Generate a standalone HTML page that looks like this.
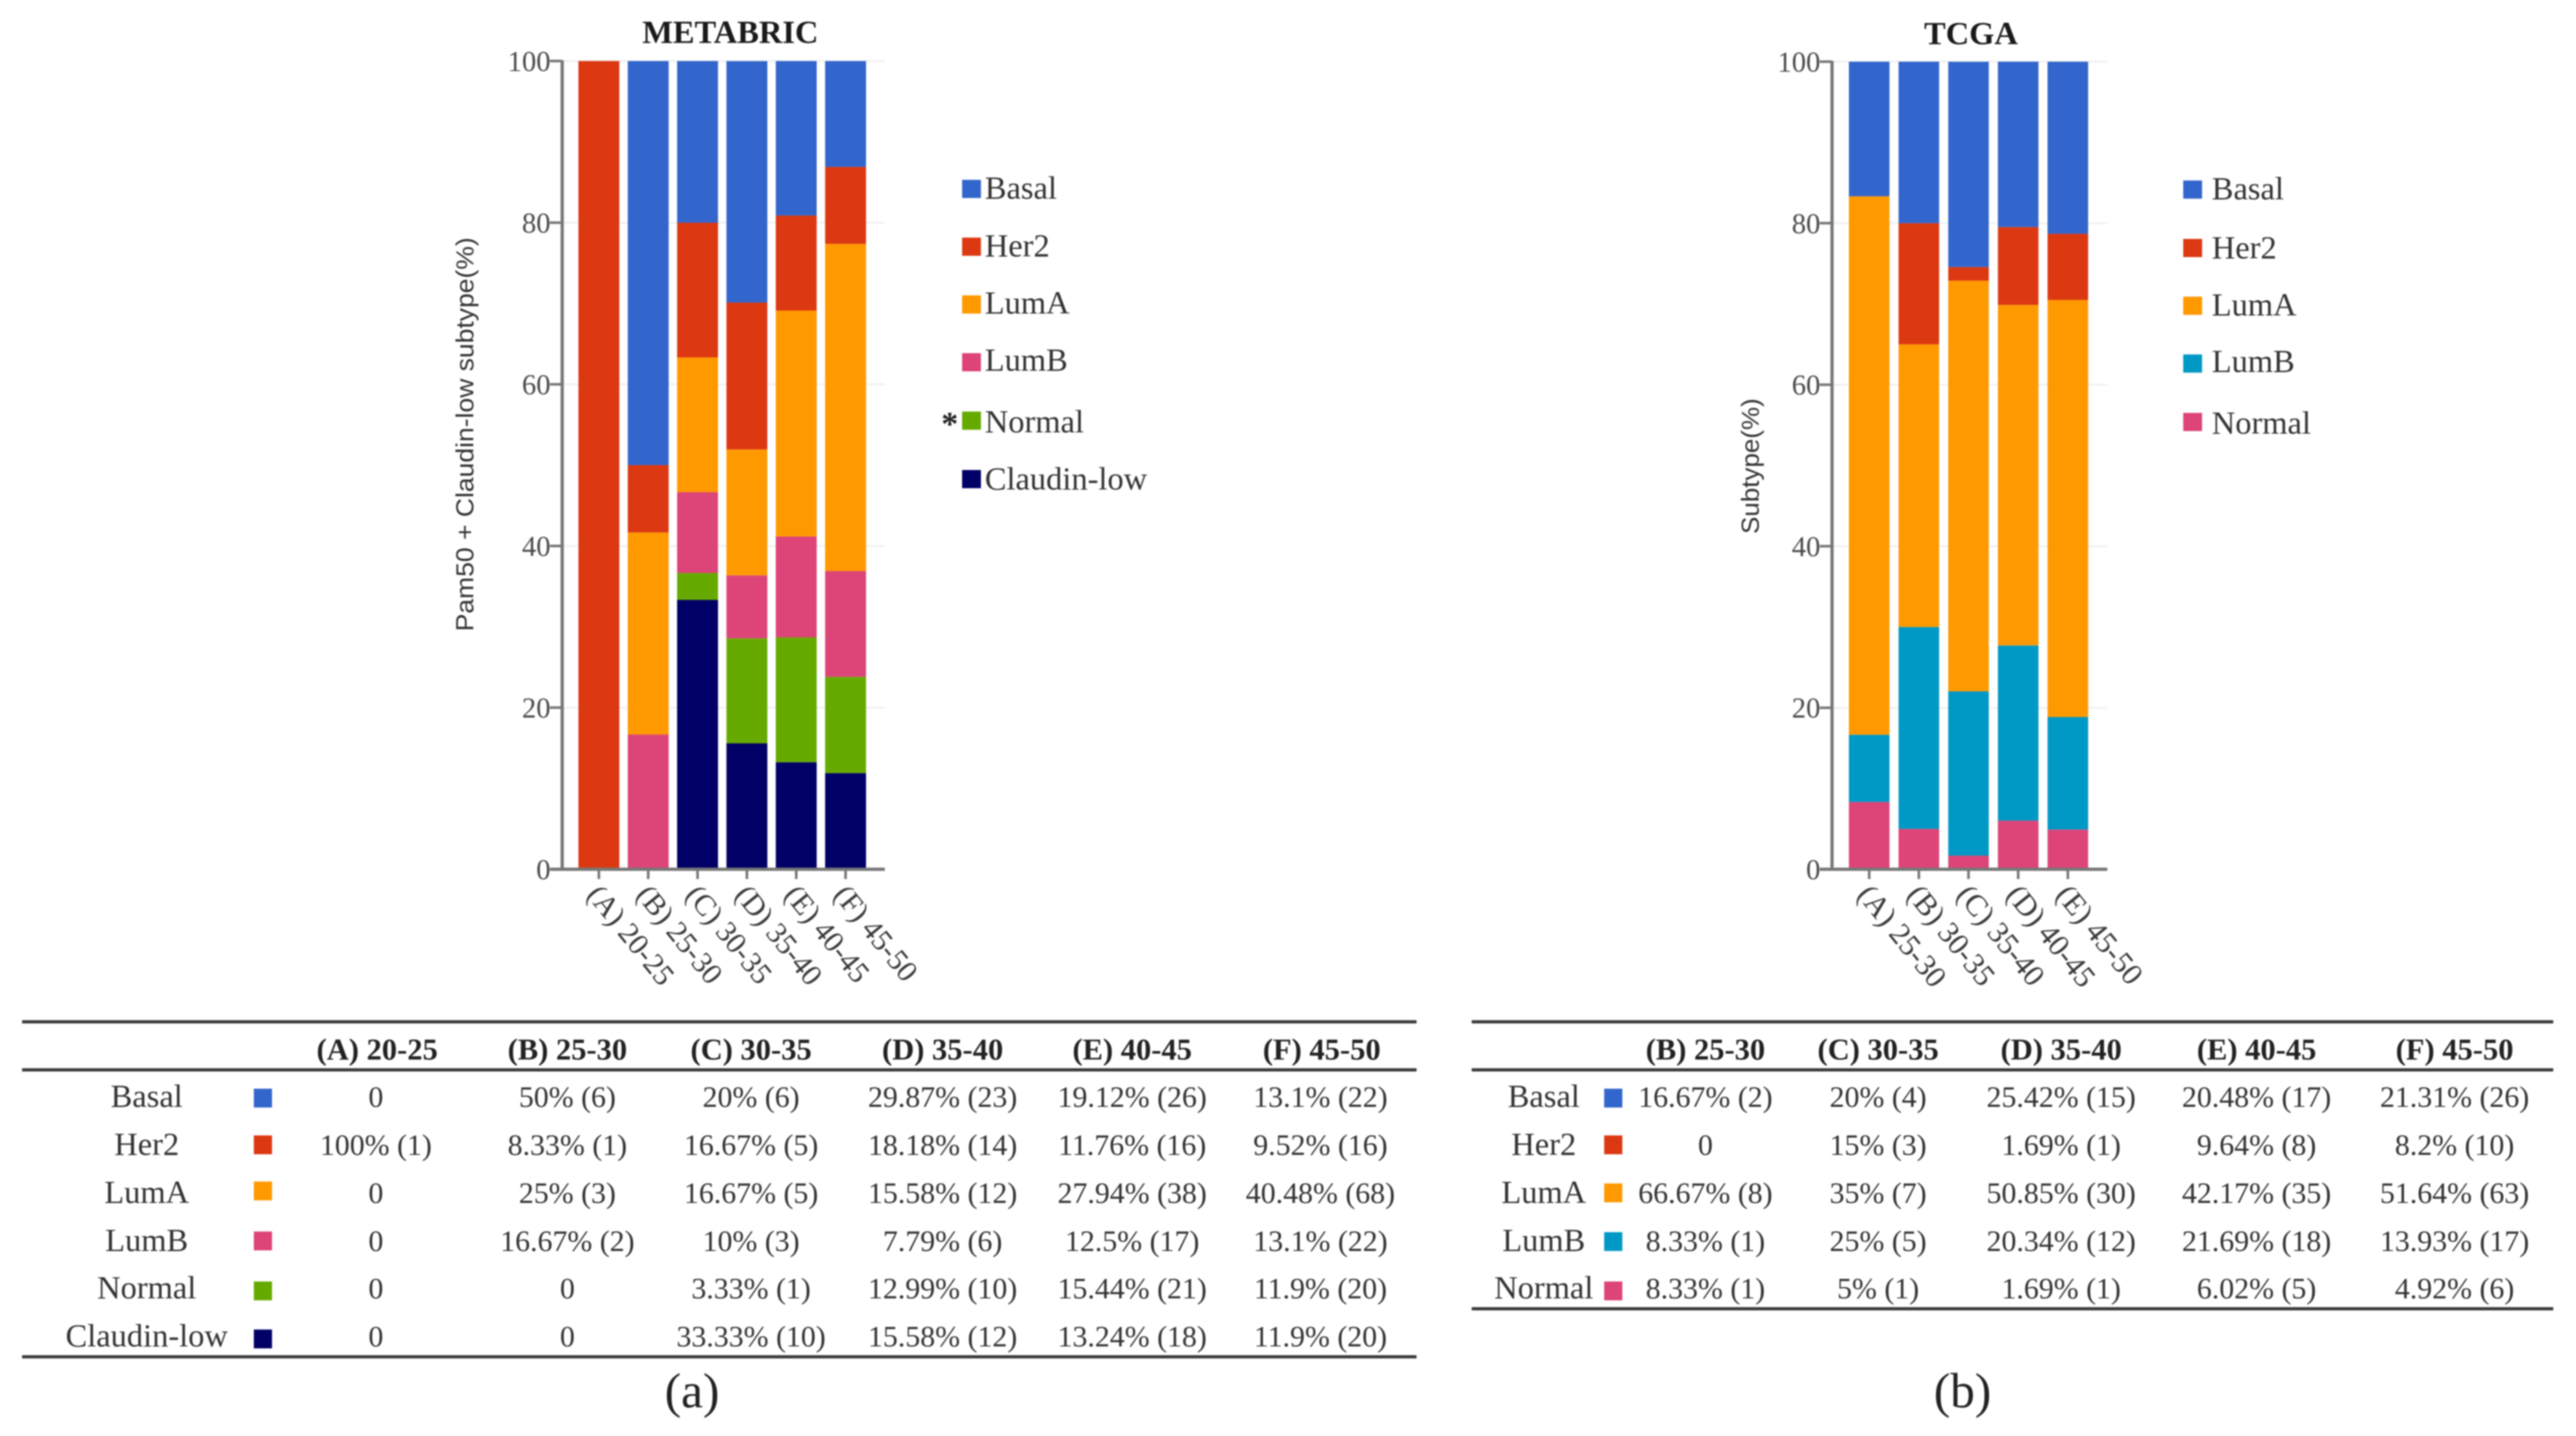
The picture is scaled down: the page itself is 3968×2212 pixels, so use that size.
<!DOCTYPE html>
<html lang="en">
<head>
<meta charset="utf-8">
<title>METABRIC and TCGA subtype distribution by age</title>
<style>
html,body{margin:0;padding:0;background:#fff;}
#figure{display:block;width:3968px;height:2212px;filter:blur(1.1px);font-family:"Liberation Serif",serif;}
</style>
</head>
<body>
<svg id="figure" xmlns="http://www.w3.org/2000/svg" width="3968" height="2212" viewBox="0 0 3968 2212">
  <rect x="0" y="0" width="3968" height="2212" fill="#fff"/>
  <text x="1125" y="66" font-size="50" font-weight="bold" text-anchor="middle" fill="#1a1a1a">METABRIC</text>
  <text x="3036" y="68" font-size="50" font-weight="bold" text-anchor="middle" fill="#1a1a1a">TCGA</text>
  <text transform="translate(729 669) rotate(-90)" font-family="'Liberation Sans',sans-serif" font-size="38" text-anchor="middle" fill="#333" textLength="607" lengthAdjust="spacingAndGlyphs">Pam50 + Claudin-low subtype(%)</text>
  <text transform="translate(2709 718) rotate(-90)" font-family="'Liberation Sans',sans-serif" font-size="38" text-anchor="middle" fill="#333" textLength="209" lengthAdjust="spacingAndGlyphs">Subtype(%)</text>
  <text x="1463" y="670" font-size="52" font-weight="bold" text-anchor="middle" fill="#222">*</text>
  <text x="1066" y="2168" font-size="76" text-anchor="middle" fill="#222">(a)</text>
  <text x="3023" y="2168" font-size="76" text-anchor="middle" fill="#222">(b)</text>
  <g id="metabric-chart"></g>
  <g id="tcga-chart"></g>
  <g id="metabric-table"></g>
  <g id="tcga-table"></g>
</svg>
<script>
// ---- Chart values ----
const yTicks = [0, 20, 40, 60, 80, 100];

const metabricCategories = ['(A) 20-25', '(B) 25-30', '(C) 30-35', '(D) 35-40', '(E) 40-45', '(F) 45-50'];
const metabricSeriesNames = ['Basal', 'Her2', 'LumA', 'LumB', 'Normal', 'Claudin-low'];
const metabricBasal = [0, 50, 20, 29.87, 19.12, 13.1];
const metabricHer2 = [100, 8.33, 16.67, 18.18, 11.76, 9.52];
const metabricLumA = [0, 25, 16.67, 15.58, 27.94, 40.48];
const metabricLumB = [0, 16.67, 10, 7.79, 12.5, 13.1];
const metabricNormal = [0, 0, 3.33, 12.99, 15.44, 11.9];
const metabricClaudin = [0, 0, 33.33, 15.58, 13.24, 11.9];
const metabricBasalCounts = [0, 6, 6, 23, 26, 22];
const metabricHer2Counts = [1, 1, 5, 14, 16, 16];
const metabricLumACounts = [0, 3, 5, 12, 38, 68];
const metabricLumBCounts = [0, 2, 3, 6, 17, 22];
const metabricNormalCounts = [0, 0, 1, 10, 21, 20];
const metabricClaudinCounts = [0, 0, 10, 12, 18, 20];

const tcgaCategories = ['(A) 25-30', '(B) 30-35', '(C) 35-40', '(D) 40-45', '(E) 45-50'];
const tcgaTableHeaders = ['(B) 25-30', '(C) 30-35', '(D) 35-40', '(E) 40-45', '(F) 45-50'];
const tcgaSeriesNames = ['Basal', 'Her2', 'LumA', 'LumB', 'Normal'];
const tcgaBasal = [16.67, 20, 25.42, 20.48, 21.31];
const tcgaHer2 = [0, 15, 1.69, 9.64, 8.2];
const tcgaLumA = [66.67, 35, 50.85, 42.17, 51.64];
const tcgaLumB = [8.33, 25, 20.34, 21.69, 13.93];
const tcgaNormal = [8.33, 5, 1.69, 6.02, 4.92];
const tcgaBasalCounts = [2, 4, 15, 17, 26];
const tcgaHer2Counts = [0, 3, 1, 8, 10];
const tcgaLumACounts = [8, 7, 30, 35, 63];
const tcgaLumBCounts = [1, 5, 12, 18, 17];
const tcgaNormalCounts = [1, 1, 1, 5, 6];

const metabricValues = [metabricBasal, metabricHer2, metabricLumA, metabricLumB, metabricNormal, metabricClaudin];
const metabricCounts = [metabricBasalCounts, metabricHer2Counts, metabricLumACounts, metabricLumBCounts, metabricNormalCounts, metabricClaudinCounts];
const tcgaValues = [tcgaBasal, tcgaHer2, tcgaLumA, tcgaLumB, tcgaNormal];
const tcgaCounts = [tcgaBasalCounts, tcgaHer2Counts, tcgaLumACounts, tcgaLumBCounts, tcgaNormalCounts];

const metabricColors = ['#3366cc', '#dc3912', '#ff9900', '#dd4477', '#66aa00', '#000066'];
const tcgaColors = ['#3366cc', '#dc3912', '#ff9900', '#0099c6', '#dd4477'];

// ---- Drawing ----
const NS = 'http://www.w3.org/2000/svg';
function make(parent, tag, attrs, content) {
  const el = document.createElementNS(NS, tag);
  for (const k in attrs) el.setAttribute(k, attrs[k]);
  if (content !== undefined) el.textContent = content;
  parent.appendChild(el);
  return el;
}
function slug(s) {
  return String(s).toLowerCase().replace(/[^a-z0-9]+/g, '-').replace(/^-|-$/g, '');
}

function drawChart(root, cfg) {
  const scaleY = v => cfg.y0 - (v / 100) * (cfg.y0 - cfg.y100);
  const bandX = i => cfg.firstBar + i * cfg.band;

  yTicks.forEach(t => {
    const y = scaleY(t);
    if (t > 0) {
      const grid = make(root, 'line', {x1: cfg.axisX, x2: cfg.axisEnd, y1: y, y2: y, stroke: '#f1f1f1', 'stroke-width': 3});
      
      
    }
    const tick = make(root, 'line', {x1: cfg.axisX - 19, x2: cfg.axisX, y1: y, y2: y, stroke: '#777', 'stroke-width': 4});
    
    
    const label = make(root, 'text', {x: cfg.axisX - 18, y: y + 15, 'font-size': 44, 'text-anchor': 'end', fill: '#4a4a4a'}, t);
    
    
  });

  cfg.categories.forEach((cat, i) => {
    let cum = 0;
    for (let s = cfg.values.length - 1; s >= 0; s--) {
      const v = cfg.values[s][i];
      if (v <= 0) continue;
      const top = scaleY(cum + v);
      const bar = make(root, 'rect', {x: bandX(i), y: top, width: cfg.barW, height: scaleY(cum) - top, fill: cfg.colors[s]});
      
      
      cum += v;
    }
    const cx = bandX(i) + cfg.barW / 2;
    const tick = make(root, 'line', {x1: cx, x2: cx, y1: cfg.y0, y2: cfg.y0 + 15, stroke: '#777', 'stroke-width': 4});
    
    
    const lx = cx + cfg.labelDx, ly = cfg.y0 + 40;
    const label = make(root, 'text', {x: lx, y: ly, 'font-size': cfg.labelSize, fill: '#3a3a3a', transform: 'rotate(51 ' + lx + ' ' + ly + ')'}, cat);
    
    
  });

  const axisY = make(root, 'line', {x1: cfg.axisX, x2: cfg.axisX, y1: cfg.y100 - 1, y2: cfg.y0 + 2, stroke: '#777', 'stroke-width': 5});
  
  
  const axisX = make(root, 'line', {x1: cfg.axisX - 19, x2: cfg.axisEnd, y1: cfg.y0, y2: cfg.y0, stroke: '#777', 'stroke-width': 5});
  
  

  cfg.names.forEach((name, s) => {
    const swatch = make(root, 'rect', {x: cfg.legendX, y: cfg.legendY[s] - 14, width: 29, height: 28, fill: cfg.colors[s]});
    
    
    const label = make(root, 'text', {x: cfg.legendTextX, y: cfg.legendTextY[s], 'font-size': 50, fill: '#333'}, name);
    
    
  });
}

function drawTable(root, cfg) {
  [cfg.topY, cfg.headY, cfg.bottomY].forEach((y, i) => {
    const rule = make(root, 'line', {x1: cfg.x1, x2: cfg.x2, y1: y, y2: y, stroke: '#3c3c3c', 'stroke-width': 5});
    
    
  });
  cfg.headers.forEach((h, c) => {
    const head = make(root, 'text', {x: cfg.headX[c], y: cfg.headTextY, 'font-size': 47, 'font-weight': 'bold', 'text-anchor': 'middle', fill: '#222'}, h);
    
    
  });
  cfg.names.forEach((name, r) => {
    const y = cfg.rowY[r];
    const label = make(root, 'text', {x: cfg.labelX, y: y + 15, 'font-size': 50, 'text-anchor': 'middle', fill: '#333'}, name);
    
    
    const sw = make(root, 'rect', {x: cfg.swatchX - 14, y: cfg.swatchY[r] - 14, width: 28, height: 29, fill: cfg.colors[r]});
    
    
    cfg.headers.forEach((h, c) => {
      const v = cfg.values[r][c];
      const text = v === 0 ? '0' : v + '% (' + cfg.counts[r][c] + ')';
      const cell = make(root, 'text', {x: cfg.colX[c], y: y + 15, 'font-size': 46, 'text-anchor': 'middle', fill: '#333'}, text);
      
      
    });
  });
}

drawChart(document.getElementById('metabric-chart'), {
  categories: metabricCategories, names: metabricSeriesNames, values: metabricValues, colors: metabricColors,
  axisX: 866, axisEnd: 1363, y0: 1339, y100: 94, firstBar: 891, band: 76, barW: 63,
  labelDx: -20, labelSize: 46,
  legendX: 1482, legendTextX: 1517, legendY: [291, 380, 469, 558, 648, 738], legendTextY: [306, 395, 483, 571, 666, 754]
});
drawChart(document.getElementById('tcga-chart'), {
  categories: tcgaCategories, names: tcgaSeriesNames, values: tcgaValues, colors: tcgaColors,
  axisX: 2822, axisEnd: 3246, y0: 1339, y100: 95, firstBar: 2848, band: 76.5, barW: 62.5,
  labelDx: -20, labelSize: 47,
  legendX: 3363, legendTextX: 3407, legendY: [292, 382, 471, 560, 650], legendTextY: [307, 398, 486, 573, 668]
});
drawTable(document.getElementById('metabric-table'), {
  headers: metabricCategories, names: metabricSeriesNames, values: metabricValues, counts: metabricCounts, colors: metabricColors,
  x1: 34, x2: 2182, topY: 1574, headY: 1648, bottomY: 2090, headTextY: 1632,
  labelX: 226, swatchX: 405, colX: [579, 874, 1157, 1452, 1744, 2034], headX: [581, 874, 1157, 1452, 1744, 2036],
  rowY: [1690, 1764, 1838, 1912, 1985, 2059], swatchY: [1691, 1763, 1834, 1911, 1988, 2062]
});
drawTable(document.getElementById('tcga-table'), {
  headers: tcgaTableHeaders, names: tcgaSeriesNames, values: tcgaValues, counts: tcgaCounts, colors: tcgaColors,
  x1: 2267, x2: 3933, topY: 1574, headY: 1648, bottomY: 2016, headTextY: 1632,
  labelX: 2378, swatchX: 2485, colX: [2627, 2893, 3175, 3476, 3781], headX: [2627, 2893, 3175, 3476, 3781],
  rowY: [1690, 1764, 1838, 1912, 1985], swatchY: [1691, 1763, 1837, 1912, 1988]
});
</script>
</body>
</html>
